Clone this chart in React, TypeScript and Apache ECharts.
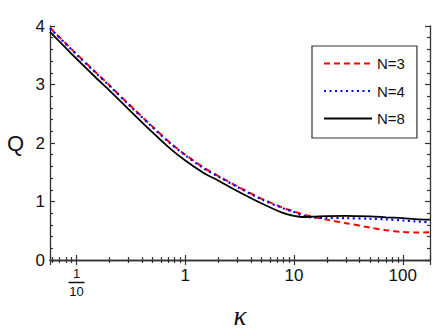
import React, { useEffect, useRef } from "react";
import * as echarts from "echarts";

const kappa = [0.057, 0.08, 0.1, 0.15, 0.2, 0.3, 0.5, 0.7, 1, 1.5, 2, 3, 5, 8, 10, 12, 15, 20, 30, 50, 70, 100, 130, 178];
const qN3 = [3.97, 3.70, 3.52, 3.21, 2.99, 2.67, 2.28, 2.03, 1.80, 1.57, 1.44, 1.26, 1.05, 0.89, 0.83, 0.78, 0.74, 0.69, 0.63, 0.555, 0.51, 0.48, 0.47, 0.475];
const qN4 = [3.96, 3.69, 3.51, 3.20, 2.98, 2.66, 2.27, 2.02, 1.79, 1.56, 1.43, 1.25, 1.04, 0.88, 0.82, 0.76, 0.725, 0.72, 0.715, 0.705, 0.695, 0.675, 0.66, 0.645];
const qN8 = [3.90, 3.62, 3.44, 3.12, 2.90, 2.58, 2.18, 1.93, 1.70, 1.48, 1.36, 1.18, 0.97, 0.80, 0.755, 0.735, 0.74, 0.75, 0.755, 0.745, 0.73, 0.715, 0.70, 0.69];
const seriesNames = ["N=3", "N=4", "N=8"];
const xMin = 0.057;
const xMax = 178;
const yMin = 0;
const yMax = 4;

const AXIS_COLOR = "#333";
const TEXT_COLOR = "#111";
const FONT = "'Liberation Sans', Arial, sans-serif";

function xLabel(v: number): string {
  const l = Math.log10(v);
  if (Math.abs(l - Math.round(l)) > 1e-6) return "";
  const p = Math.round(l);
  if (p === -1) return "{n|1}\n{bar|\u00a0}\n{n|10}";
  if (p >= 0) return String(Math.round(v));
  return "";
}

export default function App() {
  const ref = useRef<HTMLDivElement>(null);
  useEffect(() => {
    if (!ref.current) return;
    const chart = echarts.init(ref.current, null, { renderer: "svg" });
    const tickStyle = { color: AXIS_COLOR, width: 1.2 };
    const baseX = {
      type: "log",
      logBase: 10,
      min: xMin,
      max: xMax,
      splitLine: { show: false },
      minorSplitLine: { show: false },
      axisLine: { show: true, lineStyle: { color: AXIS_COLOR, width: 1.3 } },
      axisTick: { show: true, inside: true, length: 5, lineStyle: tickStyle },
      minorTick: { show: true, splitNumber: 9, length: 3, lineStyle: tickStyle },
    };
    const baseY = {
      type: "value",
      min: yMin,
      max: yMax,
      interval: 1,
      splitLine: { show: false },
      minorSplitLine: { show: false },
      axisLine: { show: true, lineStyle: { color: AXIS_COLOR, width: 1.3 } },
      axisTick: { show: true, inside: true, length: 5, lineStyle: tickStyle },
      minorTick: { show: true, splitNumber: 5, length: 3, lineStyle: tickStyle },
    };
    chart.setOption({
      animation: false,
      backgroundColor: "#fff",
      grid: { left: 50, top: 26, right: 6, bottom: 71, outerBoundsMode: "none", containLabel: false },
      legend: {
        data: seriesNames,
        orient: "vertical",
        left: 312,
        top: 46,
        itemWidth: 48,
        itemHeight: 14,
        itemGap: 12.5,
        padding: [10, 12, 12, 11],
        borderColor: AXIS_COLOR,
        borderWidth: 1.2,
        backgroundColor: "#fff",
        itemStyle: { opacity: 0, borderWidth: 0 },
        textStyle: { fontSize: 15, color: TEXT_COLOR, fontFamily: FONT },
      },
      xAxis: [
        {
          ...baseX,
          position: "bottom",
          name: "κ",
          nameLocation: "middle",
          nameGap: 38,
          nameTextStyle: { fontFamily: "'Liberation Serif', serif", fontStyle: "italic", fontSize: 27, color: TEXT_COLOR },
          axisLabel: {
            show: true,
            formatter: xLabel,
            fontSize: 17,
            margin: 7,
            color: TEXT_COLOR,
            fontFamily: FONT,
            rich: {
              n: { fontSize: 13, lineHeight: 13, color: TEXT_COLOR, fontFamily: FONT, align: "center" },
              bar: { width: 16, height: 1.5, lineHeight: 5, fontSize: 4, backgroundColor: TEXT_COLOR, align: "center" },
            },
          },
        },
        { ...baseX, position: "top", axisLabel: { show: false } },
      ],
      yAxis: [
        {
          ...baseY,
          position: "left",
          name: "Q",
          nameLocation: "middle",
          nameRotate: 0,
          nameGap: 26,
          nameTextStyle: { fontSize: 22, color: TEXT_COLOR, fontFamily: FONT },
          axisLabel: { show: true, fontSize: 17, margin: 5, color: TEXT_COLOR, fontFamily: FONT },
        },
        { ...baseY, position: "right", axisLabel: { show: false } },
      ],
      series: [
        {
          name: seriesNames[0],
          type: "line",
          xAxisIndex: 0,
          yAxisIndex: 0,
          data: kappa.map((k, i) => [k, qN3[i]]),
          symbol: "none",
          smooth: 0.3,
          lineStyle: { color: "#ff0000", width: 2, type: [6, 4] },
          itemStyle: { color: "#ff0000" },
        },
        {
          name: seriesNames[1],
          type: "line",
          xAxisIndex: 0,
          yAxisIndex: 0,
          data: kappa.map((k, i) => [k, qN4[i]]),
          symbol: "none",
          smooth: 0.3,
          lineStyle: { color: "#0000ff", width: 2.2, type: [2, 3.5] },
          itemStyle: { color: "#0000ff" },
        },
        {
          name: seriesNames[2],
          type: "line",
          xAxisIndex: 0,
          yAxisIndex: 0,
          data: kappa.map((k, i) => [k, qN8[i]]),
          symbol: "none",
          smooth: 0.3,
          lineStyle: { color: "#000000", width: 1.8 },
          itemStyle: { color: "#000000" },
        },
      ],
    });
    return () => chart.dispose();
  }, []);
  return <div ref={ref} style={{ position: "fixed", left: 0, top: 0, width: 436, height: 331 }} />;
}
